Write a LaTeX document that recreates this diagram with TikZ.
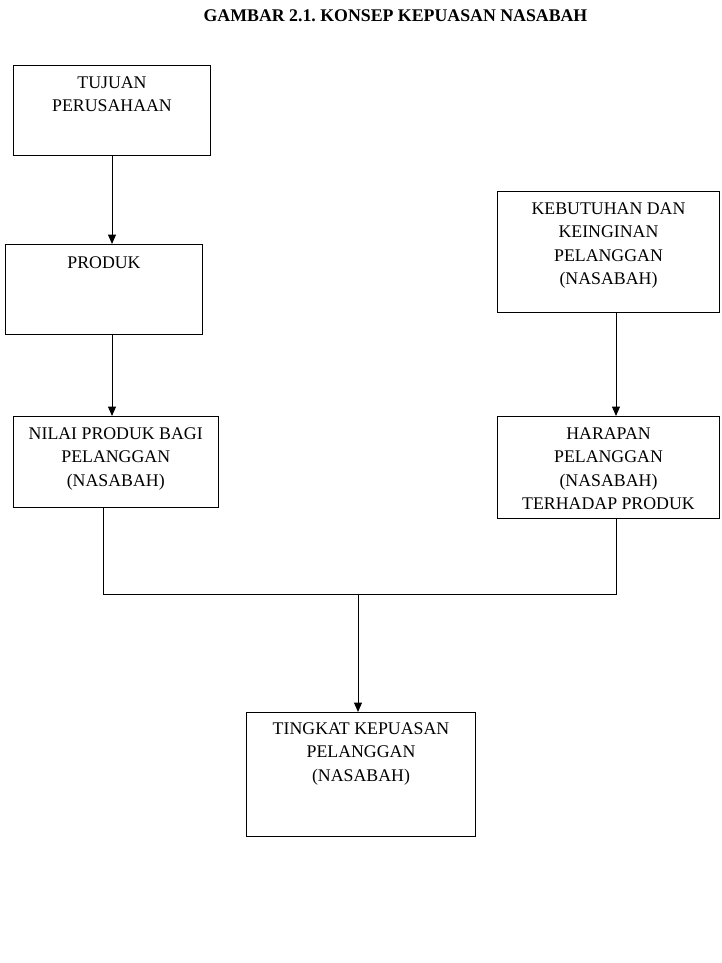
\documentclass[tikz,border=0pt]{standalone}
\usepackage{fontspec}
\setmainfont{Liberation Serif}
\usepackage{tikz}
\usetikzlibrary{arrows.meta,positioning}
\frenchspacing
\tikzset{
  kotak/.style={draw,line width=1pt,inner sep=0pt,anchor=north west},
  isi/.style={anchor=north,align=center,inner sep=0pt,font=\fontsize{17.8}{23.5}\selectfont},
  garis/.style={line width=1pt},
  panah/.style={line width=1pt,-{Triangle[length=9.5pt,width=8pt]}}
}
\begin{document}
\begin{tikzpicture}[x=1pt,y=-1pt]
  \useasboundingbox[fill=white] (0,0) rectangle (722,963);
  \node[anchor=base,inner sep=0pt,font=\fontsize{17.8}{23.5}\selectfont\bfseries] (judul) at (395.5,21.7) {GAMBAR 2.1. KONSEP KEPUASAN NASABAH};
  % kotak kiri
  \node[kotak,minimum width=197,minimum height=90] (tujuan) at (13,65) {};
  \node[kotak,minimum width=197,minimum height=90] (produk) at (5,244) {};
  \node[kotak,minimum width=204.5,minimum height=91] (nilai) at (13,416) {};
  % kotak kanan
  \node[kotak,minimum width=222,minimum height=121] (kebutuhan) at (497,191) {};
  \node[kotak,minimum width=222,minimum height=102] (harapan) at (497,416) {};
  % kotak bawah
  \node[kotak,minimum width=229,minimum height=124] (tingkat) at (246,712) {};
  % teks
  \node[isi,below=11.5pt of tujuan.north] (tujuan-t) {TUJUAN\\PERUSAHAAN};
  \node[isi,below=12.5pt of produk.north] (produk-t) {PRODUK};
  \node[isi,below=11.5pt of nilai.north] (nilai-t) {NILAI PRODUK BAGI\\PELANGGAN\\(NASABAH)};
  \node[isi,below=11.5pt of kebutuhan.north] (kebutuhan-t) {KEBUTUHAN DAN\\KEINGINAN\\PELANGGAN\\(NASABAH)};
  \node[isi,below=11.5pt of harapan.north] (harapan-t) {HARAPAN\\PELANGGAN\\(NASABAH)\\TERHADAP PRODUK};
  \node[isi,below=10.5pt of tingkat.north] (tingkat-t) {TINGKAT KEPUASAN\\PELANGGAN\\(NASABAH)};
  % titik sambung
  \coordinate (kiri) at (103,507);
  \coordinate (kanan) at (616,518);
  \coordinate (tengah) at (358,594);
  \coordinate (atas) at (616,312);
  % panah
  \draw[panah] (tujuan.south) -- (tujuan.south |- produk.north);
  \draw[panah] (tujuan.south |- produk.south) -- (tujuan.south |- nilai.north);
  \draw[panah] (atas) -- (atas |- harapan.north);
  \draw[garis] (kiri) -- (kiri |- tengah) -- (kanan |- tengah) -- (kanan);
  \draw[panah] (tengah) -- (tengah |- tingkat.north);
\end{tikzpicture}
\end{document}
